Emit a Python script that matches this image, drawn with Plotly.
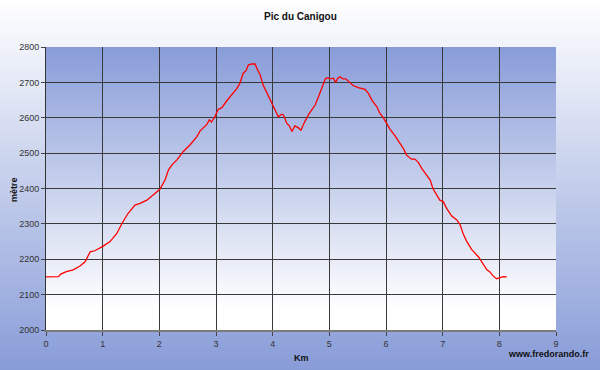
import plotly.graph_objects as go

# ---- data ----
distance_km = [0.00, 0.22, 0.26, 0.36, 0.48, 0.60, 0.69, 0.78, 0.86, 1.01,
               1.13, 1.25, 1.34, 1.45, 1.57, 1.66, 1.78, 1.89, 2.01, 2.10,
               2.16, 2.22, 2.31, 2.42, 2.54, 2.66, 2.72, 2.84, 2.88, 2.92,
               2.98, 3.04, 3.10, 3.19, 3.28, 3.37, 3.42, 3.48, 3.53, 3.57,
               3.63, 3.69, 3.72, 3.78, 3.83, 3.92, 3.98, 4.04, 4.10, 4.16,
               4.19, 4.25, 4.29, 4.34, 4.39, 4.45, 4.50, 4.54, 4.63, 4.69,
               4.75, 4.81, 4.87, 4.93, 4.97, 5.01, 5.07, 5.11, 5.15, 5.19,
               5.24, 5.29, 5.36, 5.42, 5.51, 5.63, 5.69, 5.75, 5.84, 5.89,
               5.95, 6.01, 6.07, 6.16, 6.25, 6.31, 6.36, 6.45, 6.51, 6.57,
               6.63, 6.72, 6.78, 6.83, 6.88, 6.95, 7.01, 7.07, 7.16, 7.25,
               7.31, 7.36, 7.42, 7.51, 7.63, 7.69, 7.78, 7.83, 7.89, 7.95,
               8.01, 8.07, 8.13]
altitude_m = [2150, 2151, 2158, 2165, 2170, 2181, 2193, 2221, 2224, 2237,
              2250, 2273, 2301, 2330, 2353, 2358, 2367, 2382, 2398, 2424,
              2452, 2466, 2481, 2504, 2523, 2546, 2563, 2581, 2594, 2588,
              2603, 2624, 2628, 2648, 2664, 2683, 2697, 2726, 2733, 2749,
              2752, 2752, 2740, 2721, 2693, 2664, 2645, 2627, 2603, 2610,
              2608, 2584, 2578, 2561, 2577, 2572, 2565, 2580, 2608, 2622,
              2636, 2660, 2685, 2710, 2713, 2710, 2712, 2700, 2712, 2716,
              2710, 2710, 2700, 2691, 2685, 2680, 2669, 2650, 2631, 2613,
              2601, 2584, 2568, 2549, 2528, 2512, 2495, 2483, 2483, 2474,
              2457, 2438, 2424, 2399, 2384, 2367, 2363, 2344, 2322, 2311,
              2297, 2273, 2252, 2228, 2207, 2193, 2170, 2165, 2153, 2145,
              2149, 2151, 2150]
x_ticks = [0, 1, 2, 3, 4, 5, 6, 7, 8, 9]
y_ticks = [2000, 2100, 2200, 2300, 2400, 2500, 2600, 2700, 2800]

title_text = "Pic du Canigou"
x_title = "Km"
y_title = "mètre"
credit = "www.fredorando.fr"

# ---- layout geometry ----
W, H = 600, 370
ML, MR, MT, MB = 46, 44, 47, 40
PW, PH = W - ML - MR, H - MT - MB

BLUE = (136, 156, 216)
WHITE = (255, 255, 255)


def mix(c1, c2, t):
    return "rgb(%d,%d,%d)" % tuple(round(a + (b - a) * t) for a, b in zip(c1, c2))


def px_to_paper_x(px):
    return (px - ML) / PW


def px_to_paper_y(py):
    return 1 - (py - MT) / PH


shapes = []
# outer background: white at top -> blue at bottom
step = 3
for py in range(0, H, step):
    t = (py + step / 2) / H
    shapes.append(dict(type="rect", xref="paper", yref="paper", layer="below",
                       x0=px_to_paper_x(0), x1=px_to_paper_x(W),
                       y0=px_to_paper_y(min(H, py + step + 0.6)), y1=px_to_paper_y(py),
                       line=dict(width=0), fillcolor=mix(WHITE, BLUE, t)))
# plot area: blue at top -> white at bottom
step = 2
for py in range(MT, MT + PH, step):
    t = (py - MT + step / 2) / PH
    t = min(1.0, t * 1.08)
    shapes.append(dict(type="rect", xref="paper", yref="paper", layer="below",
                       x0=0, x1=1,
                       y0=px_to_paper_y(min(MT + PH, py + step + 0.6)), y1=px_to_paper_y(py),
                       line=dict(width=0), fillcolor=mix(BLUE, WHITE, t)))

fig = go.Figure()
fig.add_trace(go.Scatter(x=distance_km, y=altitude_m, mode="lines",
                         line=dict(color="#ff0000", width=1.3),
                         hoverinfo="x+y", showlegend=False))

font_family = "Liberation Sans, Arial, sans-serif"

fig.update_layout(
    width=W, height=H,
    margin=dict(l=ML, r=MR, t=MT, b=MB, pad=0),
    paper_bgcolor="white",
    plot_bgcolor="rgba(0,0,0,0)",
    shapes=shapes,
    font=dict(family=font_family, size=9, color="#333333"),
    xaxis=dict(range=[0, 9], tickvals=x_ticks, ticktext=[str(v) for v in x_ticks],
               showgrid=True, gridcolor="#3a3a3a", gridwidth=1,
               showline=True, linecolor="#7a7a7a", linewidth=2,
               ticks="outside", ticklen=4, tickcolor="#444444",
               zeroline=False, fixedrange=True),
    yaxis=dict(range=[2000, 2800], tickvals=y_ticks, ticktext=[str(v) for v in y_ticks],
               showgrid=True, gridcolor="#3a3a3a", gridwidth=1,
               showline=True, linecolor="#333333", linewidth=1,
               ticks="outside", ticklen=4, tickcolor="#444444",
               zeroline=False, fixedrange=True),
    annotations=[
        dict(text="<b>%s</b>" % title_text, xref="paper", yref="paper",
             x=px_to_paper_x(300), y=px_to_paper_y(17), xanchor="center", yanchor="middle",
             showarrow=False, font=dict(size=10, color="#111111", family=font_family)),
        dict(text="<b>%s</b>" % x_title, xref="paper", yref="paper",
             x=px_to_paper_x(301), y=px_to_paper_y(358), xanchor="center", yanchor="middle",
             showarrow=False, font=dict(size=9, color="#111111", family=font_family)),
        dict(text="<b>%s</b>" % y_title, xref="paper", yref="paper",
             x=px_to_paper_x(14), y=px_to_paper_y(190), xanchor="center", yanchor="middle",
             textangle=-90, showarrow=False,
             font=dict(size=9, color="#111111", family=font_family)),
        dict(text="<b>%s</b>" % credit, xref="paper", yref="paper",
             x=px_to_paper_x(591), y=px_to_paper_y(354), xanchor="right", yanchor="middle",
             showarrow=False, font=dict(size=9, color="#111111", family=font_family)),
    ],
)

fig.write_html("out.html",
               config=dict(displayModeBar=False),
               post_script="document.body.style.margin='0';document.body.style.overflow='hidden';")
